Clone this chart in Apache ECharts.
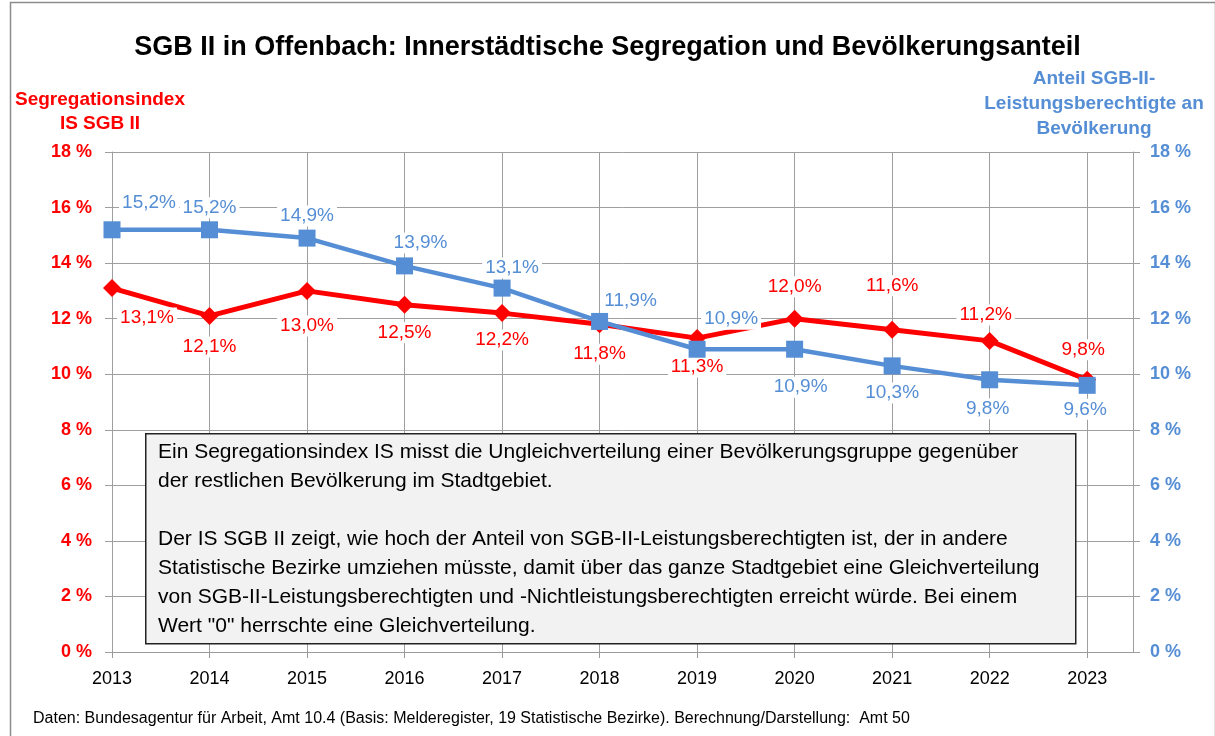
<!DOCTYPE html>
<html>
<head>
<meta charset="utf-8">
<script src="https://cdn.jsdelivr.net/npm/echarts@6/dist/echarts.min.js"></script>
<style>
  html, body { margin: 0; padding: 0; background: #fff; }
  #chart { width: 1215px; height: 736px; }
</style>
</head>
<body>
<div id="chart"></div>
<script>
// Daten
const years = [2013, 2014, 2015, 2016, 2017, 2018, 2019, 2020, 2021, 2022, 2023];
const segregation = [13.1, 12.1, 13.0, 12.5, 12.2, 11.8, 11.3, 12.0, 11.6, 11.2, 9.8];
const anteil = [15.2, 15.2, 14.9, 13.9, 13.1, 11.9, 10.9, 10.9, 10.3, 9.8, 9.6];
const yTicks = [0, 2, 4, 6, 8, 10, 12, 14, 16, 18];

// label placement (pixel offsets), kept apart from the values
const redLabelOffset = [[35, 30], [0, 31], [0, 35], [0, 28], [0, 27], [0, 30], [0, 29], [0, -32], [0, -44], [-4, -26], [-4, -30]];
const blueLabelOffset = [[37, -27], [0, -22], [0, -22], [16, -23], [10, -20], [31, -21], [34, -30], [6, 38], [0, 27], [-2, 29], [-2, 24]];

const RED = '#ff0000';
const BLUE = '#558ed5';
const FONT = '"Liberation Sans", Arial, sans-serif';

const fmt = v => v.toFixed(1).replace('.', ',') + '%';

function buildData(values, offsets) {
  return values.map((v, i) => ({
    value: [years[i], v],
    label: { offset: offsets[i] }
  }));
}

const chart = echarts.init(document.getElementById('chart'));

const boxText = [
  'Ein Segregationsindex IS misst die Ungleichverteilung einer Bevölkerungsgruppe gegenüber',
  'der restlichen Bevölkerung im Stadtgebiet.',
  '',
  'Der IS SGB II zeigt, wie hoch der Anteil von SGB-II-Leistungsberechtigten ist, der in andere',
  'Statistische Bezirke umziehen müsste, damit über das ganze Stadtgebiet eine Gleichverteilung',
  'von SGB-II-Leistungsberechtigten und -Nichtleistungsberechtigten erreicht würde. Bei einem',
  'Wert "0" herrschte eine Gleichverteilung.'
].join('\n');

const option = {
  animation: false,
  textStyle: { fontFamily: FONT },
  title: {
    text: 'SGB II in Offenbach: Innerstädtische Segregation und Bevölkerungsanteil',
    left: 'center',
    top: 29,
    textStyle: { fontFamily: FONT, fontSize: 27, fontWeight: 'bold', color: '#000' }
  },
  grid: { left: 112, right: 82, top: 152, bottom: 84, outerBoundsMode: 'none', containLabel: false },
  xAxis: {
    type: 'value',
    min: 2013,
    max: 2023.47,
    interval: 1,
    axisLine: { show: true, onZero: false, lineStyle: { color: '#999', width: 1 } },
    axisTick: { show: true, length: 6, lineStyle: { color: '#999' } },
    splitLine: { show: true, lineStyle: { color: '#9f9f9f', width: 1 } },
    axisLabel: {
      margin: 18,
      fontSize: 18,
      color: '#000',
      fontFamily: FONT,
      showMaxLabel: false,
      formatter: v => (Number.isInteger(v) && years.includes(v)) ? String(v) : ''
    }
  },
  yAxis: [
    {
      type: 'value',
      min: yTicks[0],
      max: yTicks[yTicks.length - 1],
      interval: 2,
      position: 'left',
      name: 'Segregationsindex\nIS SGB II',
      nameLocation: 'end',
      nameGap: 0,
      nameTextStyle: {
        color: RED, fontSize: 19, fontWeight: 'bold', fontFamily: FONT,
        align: 'center', lineHeight: 24, padding: [0, 24, 7, 0]
      },
      axisLine: { show: true, lineStyle: { color: '#9f9f9f' } },
      axisTick: { show: true, length: 7, lineStyle: { color: '#9f9f9f' } },
      splitLine: { show: true, lineStyle: { color: '#9f9f9f', width: 1 } },
      axisLabel: {
        margin: 20, fontSize: 18, fontWeight: 'bold', color: RED, fontFamily: FONT,
        formatter: v => v + ' %'
      }
    },
    {
      type: 'value',
      min: yTicks[0],
      max: yTicks[yTicks.length - 1],
      interval: 2,
      position: 'right',
      name: 'Anteil SGB-II-\nLeistungsberechtigte an\nBevölkerung',
      nameLocation: 'end',
      nameGap: 0,
      nameTextStyle: {
        color: BLUE, fontSize: 19, fontWeight: 'bold', fontFamily: FONT,
        align: 'center', lineHeight: 25, padding: [0, 78, 2, 0]
      },
      axisLine: { show: true, lineStyle: { color: '#9f9f9f' } },
      axisTick: { show: true, length: 7, lineStyle: { color: '#9f9f9f' } },
      splitLine: { show: false },
      axisLabel: {
        margin: 17, fontSize: 18, fontWeight: 'bold', color: BLUE, fontFamily: FONT,
        formatter: v => v + ' %'
      }
    }
  ],
  series: [
    {
      name: 'Segregationsindex IS SGB II',
      type: 'line',
      yAxisIndex: 0,
      data: buildData(segregation, redLabelOffset),
      symbol: 'diamond',
      symbolSize: 18,
      lineStyle: { color: RED, width: 5 },
      itemStyle: { color: RED },
      z: 3,
      label: {
        show: true,
        position: 'inside',
        formatter: p => fmt(p.value[1]),
        color: RED,
        fontSize: 19,
        fontFamily: FONT,
        backgroundColor: '#fff',
        padding: [1, 3]
      },
      emphasis: { disabled: true }
    },
    {
      name: 'Anteil SGB-II-Leistungsberechtigte',
      type: 'line',
      yAxisIndex: 1,
      data: buildData(anteil, blueLabelOffset),
      symbol: 'rect',
      symbolSize: 17,
      lineStyle: { color: BLUE, width: 4.5 },
      itemStyle: { color: BLUE },
      z: 4,
      label: {
        show: true,
        position: 'inside',
        formatter: p => fmt(p.value[1]),
        color: BLUE,
        fontSize: 19,
        fontFamily: FONT,
        backgroundColor: '#fff',
        padding: [1, 3]
      },
      emphasis: { disabled: true }
    }
  ],
  graphic: [
    {
      type: 'rect',
      left: 8, top: 0,
      shape: { width: 1205, height: 735 },
      style: { fill: 'none', stroke: '#8c8c8c', lineWidth: 1.5 },
      z: 0
    },
    {
      type: 'rect',
      left: 145, top: 433,
      shape: { width: 930, height: 210 },
      style: { fill: '#f2f2f2', stroke: '#222', lineWidth: 1.5 },
      z: 100
    },
    {
      type: 'text',
      left: 158, top: 438,
      style: {
        text: boxText,
        font: '21px ' + FONT,
        fill: '#000',
        lineHeight: 29
      },
      z: 101
    },
    {
      type: 'text',
      left: 33, top: 711,
      style: {
        text: 'Daten: Bundesagentur für Arbeit, Amt 10.4 (Basis: Melderegister, 19 Statistische Bezirke). Berechnung/Darstellung:  Amt 50',
        font: '16px ' + FONT,
        fill: '#000'
      },
      z: 101
    }
  ]
};

chart.setOption(option);
</script>
</body>
</html>
